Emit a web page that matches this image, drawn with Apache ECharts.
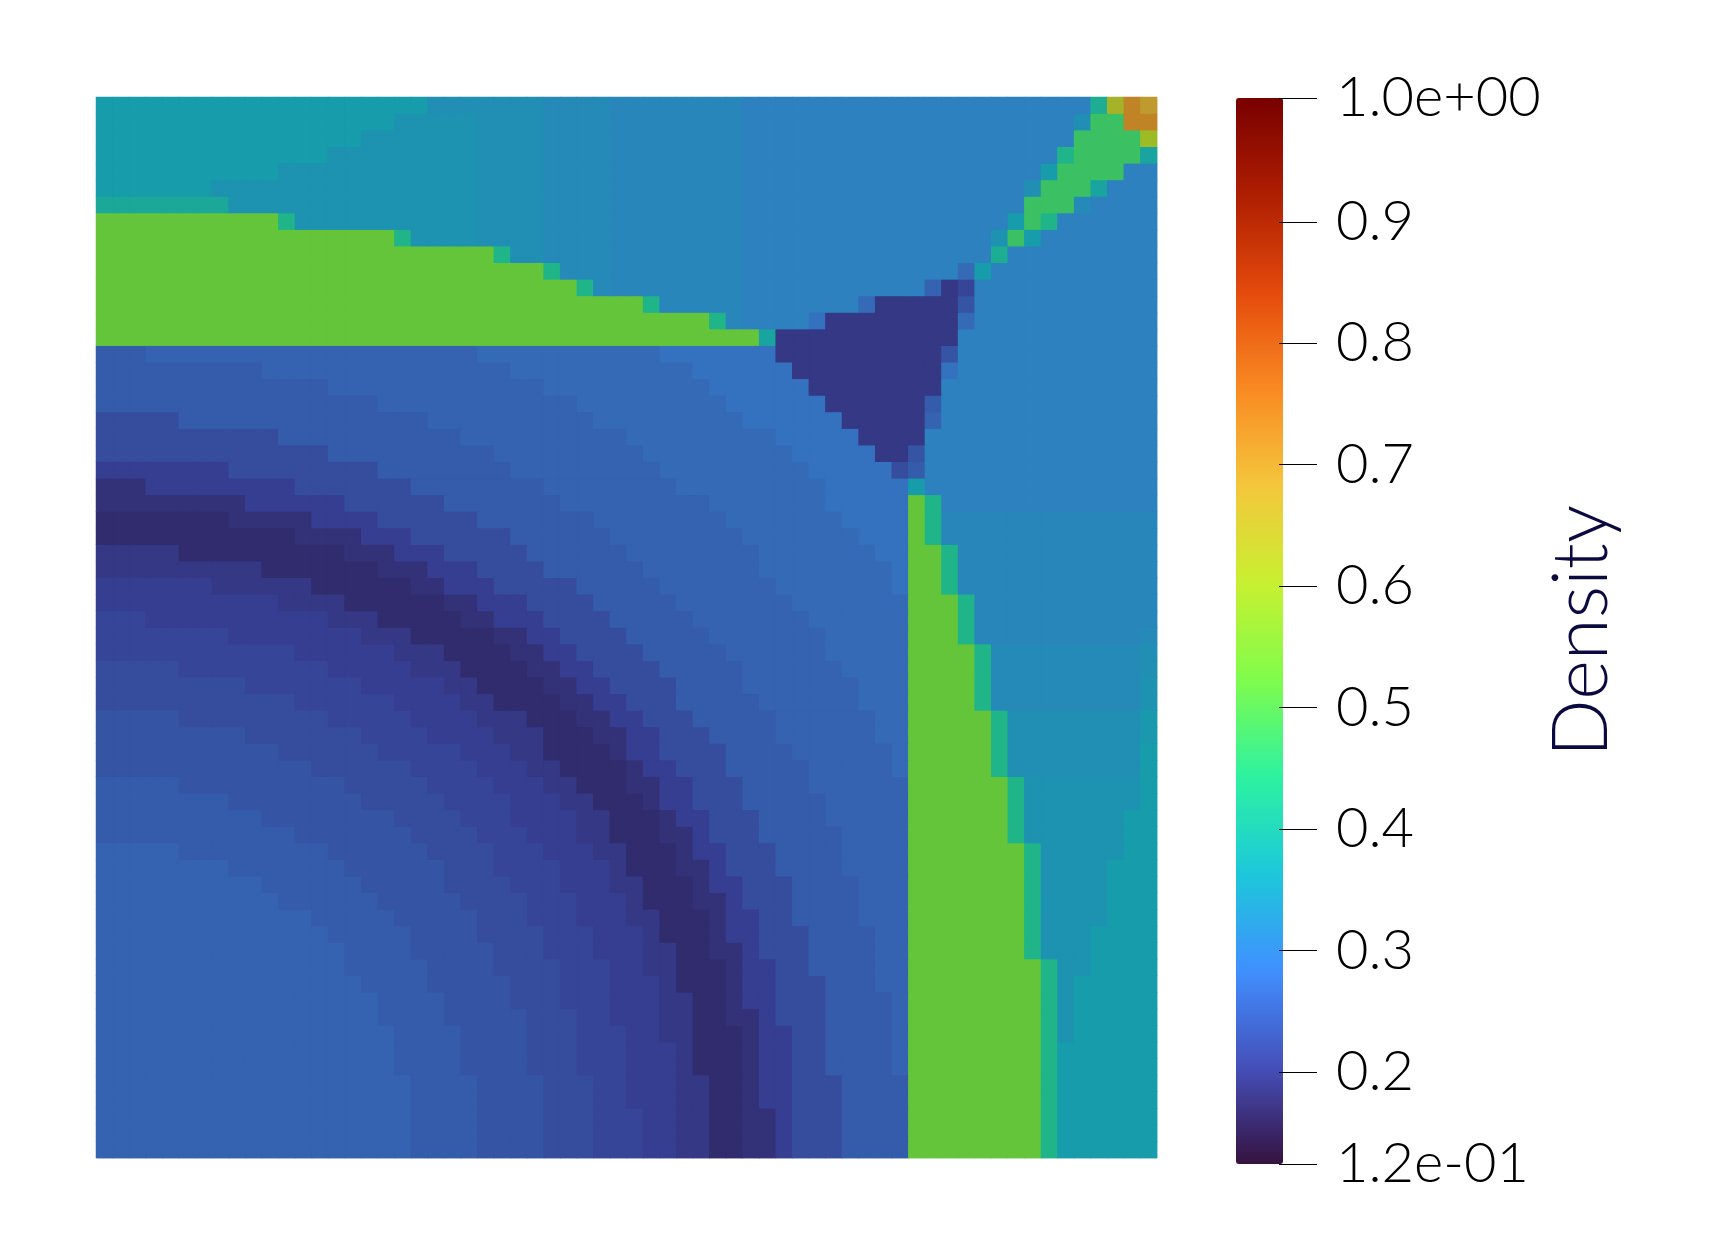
<!DOCTYPE html>
<html>
<head>
<meta charset="utf-8">
<title>Density</title>
<script src="https://cdn.jsdelivr.net/npm/echarts@6/dist/echarts.min.js"></script>
<style>
html,body{margin:0;padding:0;background:#fff;}
#chart{width:1734px;height:1237px;}
</style>
</head>
<body>
<div id="chart"></div>
<script>
// density x 100, bottom row first
// every row is flat pairs: column where the run stops, value of the run
const densityRows = [
[19,25,23,24,27,23,30,22,33,21,35,20,37,19,39,17,41,18,42,20,45,22,49,24,57,52,58,42,64,36],
[19,25,23,24,27,23,30,22,33,21,35,20,37,19,39,17,41,18,42,20,45,22,49,24,57,52,58,42,64,36],
[19,25,23,24,27,23,30,22,33,21,35,20,37,19,39,17,41,18,42,20,45,22,49,24,57,52,58,42,64,36],
[19,25,23,24,27,23,30,22,32,21,35,20,37,19,39,17,40,18,42,20,45,22,49,24,57,52,58,42,64,36],
[19,25,23,24,27,23,30,22,32,21,35,20,37,19,39,17,40,18,42,20,45,22,49,24,57,52,58,42,64,36],
[18,25,22,24,26,23,29,22,32,21,35,20,36,19,39,17,40,18,42,20,44,22,48,24,49,25,57,52,58,42,64,36],
[18,25,22,24,26,23,29,22,32,21,35,20,36,19,39,17,40,18,42,20,44,22,48,24,49,25,57,52,58,42,64,36],
[18,25,22,24,26,23,29,22,32,21,34,20,36,19,39,17,40,18,42,20,44,22,48,24,49,25,57,52,58,42,59,34,64,36],
[17,25,21,24,26,23,29,22,31,21,34,20,36,19,38,17,40,18,41,20,44,22,48,24,49,25,57,52,58,42,59,34,64,36],
[17,25,21,24,25,23,28,22,31,21,34,20,36,19,38,17,39,18,41,20,44,22,48,24,49,25,57,52,58,42,59,34,64,36],
[16,25,20,24,25,23,28,22,31,21,34,20,35,19,38,17,39,18,41,20,44,22,47,24,49,25,57,52,58,42,59,34,64,36],
[15,25,20,24,24,23,28,22,31,21,33,20,35,19,38,17,39,18,41,20,43,22,47,24,49,25,57,52,58,42,60,34,64,36],
[15,25,19,24,24,23,27,22,30,21,33,20,35,19,37,17,39,18,40,20,43,22,47,24,49,25,56,52,57,42,60,34,64,36],
[14,25,19,24,23,23,27,22,30,21,33,20,34,19,37,17,38,18,40,20,43,22,47,24,49,25,56,52,57,42,60,34,64,36],
[13,25,18,24,23,23,26,22,29,21,32,20,34,19,37,17,38,18,40,20,42,22,46,24,49,25,56,52,57,42,61,34,64,36],
[11,25,17,24,22,23,26,22,29,21,32,20,33,19,36,17,38,18,39,20,42,22,46,24,49,25,56,52,57,42,61,34,64,36],
[10,25,16,24,21,23,25,22,28,21,31,20,33,19,36,17,37,18,39,20,42,22,46,24,49,25,56,52,57,42,61,34,64,36],
[8,25,15,24,21,23,24,22,28,21,31,20,32,19,35,17,37,18,38,20,41,22,45,24,49,25,56,52,57,42,61,34,64,36],
[5,25,14,24,20,23,24,22,27,21,30,20,32,19,35,17,36,18,38,20,41,22,45,24,49,25,56,52,57,42,62,34,64,36],
[12,24,19,23,23,22,26,21,29,20,31,19,34,17,36,18,37,20,40,22,45,24,49,25,55,52,56,42,62,34,64,36],
[10,24,18,23,22,22,25,21,29,20,31,19,34,17,35,18,37,20,40,22,44,24,49,25,55,52,56,42,62,34,64,36],
[8,24,16,23,21,22,25,21,28,20,30,19,33,17,34,18,36,20,39,22,44,24,49,25,55,52,56,42,63,34,64,36],
[5,24,15,23,20,22,24,21,27,20,29,19,32,17,34,18,36,20,39,22,43,24,49,25,55,52,56,42,63,34,64,36],
[13,23,19,22,23,21,26,20,28,19,32,17,33,18,35,20,38,22,43,24,48,25,49,26,54,52,55,42,63,33,64,36],
[11,23,17,22,22,21,25,20,27,19,31,17,32,18,34,20,38,22,42,24,48,25,49,26,54,52,55,42,63,33,64,36],
[9,23,16,22,20,21,24,20,27,19,30,17,32,18,34,20,37,22,41,24,47,25,49,26,54,52,55,42,63,33,64,35],
[5,23,14,22,19,21,23,20,26,19,29,17,31,18,33,20,36,22,41,24,47,25,49,26,54,52,55,42,63,33,64,35],
[12,22,18,21,22,20,24,19,28,17,30,18,32,20,35,22,40,24,46,25,49,26,53,52,54,42,63,32,64,34],
[9,22,16,21,21,20,23,19,27,17,29,18,31,20,35,22,39,24,46,25,49,26,53,52,54,42,63,32,64,34],
[5,22,14,21,19,20,22,19,26,17,28,18,30,20,34,22,39,24,45,25,49,26,53,52,54,42,63,32,64,33],
[12,21,18,20,21,19,25,17,27,18,29,20,33,22,38,24,44,25,49,26,53,52,54,42,63,32,64,33],
[8,21,16,20,19,19,24,17,26,18,28,20,32,22,37,24,44,25,49,26,52,52,53,42,63,31,64,32],
[3,21,14,20,17,19,22,17,24,18,27,20,31,22,36,24,43,25,49,26,52,52,53,42,64,31],
[11,20,15,19,21,17,23,18,26,20,30,22,35,24,42,25,49,26,52,52,53,42,64,31],
[7,20,13,19,19,17,21,18,24,20,29,22,34,24,41,25,48,26,49,27,51,52,52,42,64,31],
[10,19,17,17,20,18,23,20,27,22,33,24,40,25,48,26,49,27,51,52,52,42,64,31],
[5,19,15,17,18,18,21,20,26,22,32,24,40,25,47,26,49,27,51,52,52,42,64,31],
[12,17,16,18,19,20,25,22,31,24,39,25,46,26,49,27,50,52,51,42,64,31],
[8,17,13,18,17,20,23,22,30,24,38,25,45,26,49,27,50,52,51,42,64,31],
[9,18,15,20,21,22,28,24,37,25,44,26,49,27,50,52,51,42,64,30],
[3,18,12,20,19,22,27,24,35,25,44,26,49,27,50,36,64,30],
[8,20,17,22,25,24,34,25,43,26,48,27,49,22,50,24,64,30],
[14,22,24,24,33,25,42,26,47,27,49,19,50,23,64,30],
[11,22,22,24,32,25,41,26,46,27,50,19,64,30],
[5,22,20,24,30,25,39,26,45,27,50,19,51,25,64,30],
[17,24,29,25,38,26,44,27,50,19,51,24,64,30],
[14,24,27,25,37,26,43,27,51,19,64,30],
[10,24,25,25,36,26,42,27,51,19,52,27,64,30],
[3,24,23,25,34,26,41,27,51,19,52,23,64,30],
[40,52,41,38,52,19,64,30],
[37,52,38,42,39,31,43,30,44,27,52,19,53,26,64,30],
[33,52,34,42,39,31,46,30,47,26,52,19,53,23,64,30],
[29,52,30,42,31,32,39,31,50,30,51,25,52,19,53,21,64,30],
[27,52,28,42,31,32,39,31,52,30,53,26,54,36,64,30],
[24,52,25,42,27,33,31,32,39,31,54,30,55,40,64,30],
[18,52,19,42,23,34,27,33,31,32,39,31,54,30,55,34,56,47,57,36,64,30],
[11,52,12,42,23,34,27,33,31,32,39,31,55,30,56,36,57,47,58,42,64,30],
[8,39,23,34,27,33,31,32,39,31,56,30,59,47,60,32,64,30],
[7,36,23,34,27,33,31,32,39,31,56,30,57,33,60,47,61,38,64,30],
[11,36,23,34,27,33,31,32,39,31,57,30,58,36,62,47,64,30],
[14,36,23,34,27,33,31,32,39,31,58,30,59,42,63,47,64,38],
[16,36,23,34,27,33,31,32,39,31,59,30,63,47,64,60],
[18,36,23,34,27,33,31,32,39,31,59,30,60,33,62,47,64,72],
[20,36,27,33,31,32,39,31,60,30,61,40,62,62,63,72,64,68]
]
const axisMin = 0.1242
const axisMax = 1.002
const barTicks = [axisMin,0.2,0.3,0.4,0.5,0.6,0.7,0.8,0.9,axisMax]
const barLabels = ['1.2e-01','0.2','0.3','0.4','0.5','0.6','0.7','0.8','0.9','1.0e+00']
// evenly spaced from 0.12 to 1
const barColors = ['#35123f','#454fba','#4090ff','#1cc8da','#2df2a0','#80fc4c','#c8f030','#f4c63c','#f98a22','#e44a0c','#ae1e02','#780000']
// same ramp, the surface in the picture is lit so it comes out darker
const plotColors = ['#290e31','#363e91','#3478c4','#169caa','#23bd7d','#64c53b','#9cbb25','#be9a2f','#c26c1a','#b23a09','#881702','#5d0000']

let cols = []
for(let i = 0;i<64;i++){
    cols.push(i)
}
let cells = []
densityRows.forEach((row,y)=>{
    let x = 0
    for(let i = 0;i<row.length;i+=2){
        for(;x<row[i];x++){
            cells.push([x,y,row[i+1]/100])
        }
    }
})

let chart = echarts.init(document.getElementById('chart'))
chart.setOption({
    animation:false,
    backgroundColor:'#fff',
    grid:[
        {left:96,top:97,width:1061,height:1061},
        {left:1236,top:98,width:43,height:1066},
        // same cells 1px off underneath, fills the hairline gaps between cells
        {left:97,top:98,width:1060,height:1060}
    ],
    xAxis:[
        {type:'category',data:cols,show:false,gridIndex:0},
        {type:'value',show:false,gridIndex:1},
        {type:'category',data:cols,show:false,gridIndex:2}
    ],
    yAxis:[
        {type:'category',data:cols,show:false,gridIndex:0},
        {
            type:'value',
            gridIndex:1,
            position:'right',
            min:axisMin,
            max:axisMax,
            z:10,
            splitLine:{show:false},
            axisLine:{show:true,onZero:false,lineStyle:{color:'#000',opacity:0}},
            axisTick:{show:true,length:38,customValues:barTicks,lineStyle:{color:'#000',width:1,opacity:1}},
            axisLabel:{
                show:true,
                customValues:barTicks,
                margin:57,
                padding:[0,0,16,0],
                fontFamily:'Lato',
                fontWeight:300,
                fontSize:56,
                color:'#000',
                formatter:(v)=>barLabels[barTicks.findIndex(t=>Math.abs(t-v)<0.001)]
            },
            name:'Density',
            nameLocation:'middle',
            nameRotate:90,
            nameGap:232,
            nameTextStyle:{fontFamily:'Lato',fontWeight:300,fontSize:76,color:'#0b0a40'}
        },
        {type:'category',data:cols,show:false,gridIndex:2}
    ],
    visualMap:[
        {
            type:'continuous',
            show:false,
            seriesIndex:[0,2],
            min:0.12,
            max:1,
            inRange:{color:plotColors}
        },
        {
            type:'continuous',
            show:true,
            seriesIndex:1,
            min:0.12,
            max:1,
            left:1236,
            top:98,
            padding:0,
            itemWidth:47,
            itemHeight:1066,
            text:null,
            showLabel:false,
            calculable:false,
            hoverLink:false,
            inRange:{color:barColors}
        }
    ],
    series:[
        {
            type:'heatmap',
            xAxisIndex:0,
            yAxisIndex:0,
            progressive:0,
            z:3,
            data:cells
        },
        {
            type:'scatter',
            xAxisIndex:1,
            yAxisIndex:1,
            data:[]
        },
        {
            type:'heatmap',
            xAxisIndex:2,
            yAxisIndex:2,
            progressive:0,
            z:2,
            data:cells
        }
    ]
})
</script>
</body>
</html>
